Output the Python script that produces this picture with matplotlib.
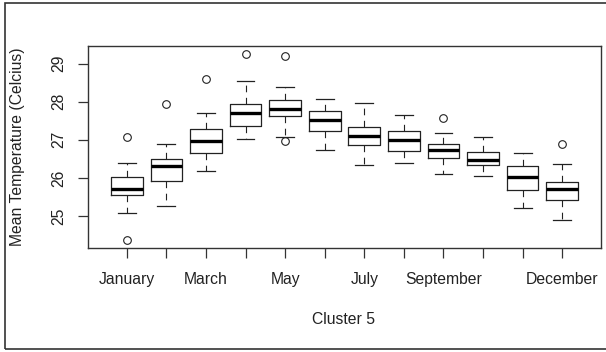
import matplotlib
matplotlib.use('Agg')
import matplotlib.pyplot as plt
from matplotlib.patches import Rectangle

plt.rcParams['font.family'] = ['Liberation Sans', 'DejaVu Sans']

months = ['January', 'February', 'March', 'April', 'May', 'June', 'July',
          'August', 'September', 'October', 'November', 'December']
shown_labels = ['January', '', 'March', '', 'May', '', 'July', '',
                'September', '', '', 'December']

# five-number summaries
whislo = [25.07, 25.25, 26.17, 27.03, 27.08, 26.72, 26.34, 26.40, 26.09, 26.06, 25.21, 24.89]
q1 = [25.55, 25.92, 26.66, 27.37, 27.62, 27.23, 26.85, 26.71, 26.52, 26.33, 25.67, 25.41]
med = [25.72, 26.32, 26.97, 27.71, 27.82, 27.51, 27.09, 27.00, 26.72, 26.46, 26.01, 25.72]
q3 = [26.03, 26.50, 27.28, 27.93, 28.04, 27.76, 27.33, 27.23, 26.90, 26.68, 26.32, 25.89]
whishi = [26.40, 26.90, 27.71, 28.53, 28.38, 28.07, 27.97, 27.64, 27.17, 27.08, 26.65, 26.37]
outliers = [[27.08, 24.36], [27.94], [28.59], [29.26], [29.21, 26.97], [], [], [],
            [27.56], [], [], [26.90]]

stats = []
for i, m in enumerate(months):
    stats.append({'label': shown_labels[i], 'whislo': whislo[i], 'q1': q1[i],
                  'med': med[i], 'q3': q3[i], 'whishi': whishi[i],
                  'fliers': outliers[i]})

fig = plt.figure(figsize=(6.06, 3.52), dpi=100)
ax = fig.add_axes([88/606, 1 - 248/352, (601-88)/606, (248-46)/352])

ax.bxp(stats, widths=0.8, capwidths=0.45,
       boxprops=dict(color='#222222', linewidth=0.9),
       medianprops=dict(color='black', linewidth=2.4, solid_capstyle='butt'),
       whiskerprops=dict(color='#222222', linewidth=0.8, linestyle=(0, (6, 5))),
       capprops=dict(color='#222222', linewidth=0.9),
       flierprops=dict(marker='o', markersize=5.5, markerfacecolor='none',
                       markeredgecolor='#222222', markeredgewidth=0.8))

# R-style limits: 4% padding
ax.set_xlim(0.02, 12.98)
ax.set_ylim(24.16, 29.46)
ax.set_yticks([25, 26, 27, 28, 29])
ax.set_yticklabels(['25', '26', '27', '28', '29'], rotation=90, va='center')

for s in ax.spines.values():
    s.set_color('#333333')
    s.set_linewidth(1.0)
ax.tick_params(axis='both', length=7, width=0.9, color='#333333',
               labelsize=11.3, labelcolor='#222222')
ax.tick_params(axis='y', pad=9)
ax.tick_params(axis='x', pad=10)

fig.text(18/606, 1 - 147/352, 'Mean Temperature (Celcius)', rotation=90,
         ha='center', va='center', fontsize=11.3, color='#222222')
fig.text(344/606, 1 - 320/352, 'Cluster 5', ha='center', va='center',
         fontsize=11.3, color='#222222')

# outer frame
fig.patches.append(Rectangle((5/606, 3/352), 1.2, 346/352, transform=fig.transFigure,
                             fill=False, edgecolor='#333333', linewidth=1.2))

fig.savefig('out.png', dpi=100)
